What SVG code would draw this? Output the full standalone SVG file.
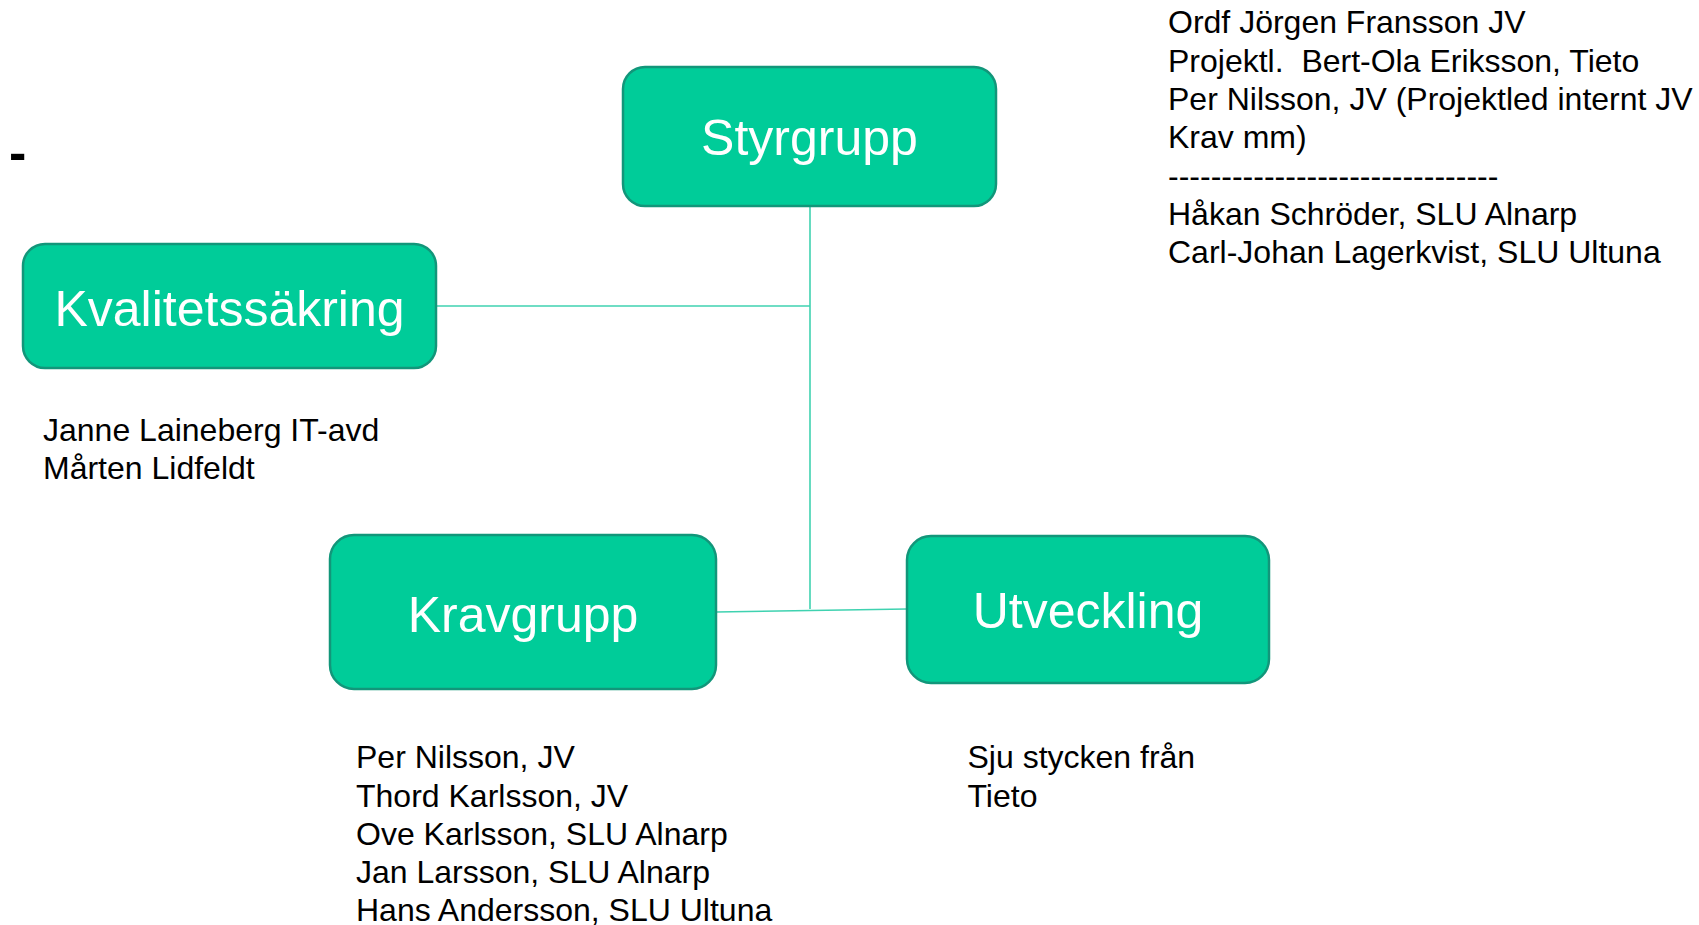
<svg xmlns="http://www.w3.org/2000/svg" width="1699" height="925" viewBox="0 0 1699 925">
<style>
.box{fill:#00CC99;stroke:#12967A;stroke-width:2.5}
.lbl{font-family:"Liberation Sans",Arial,sans-serif;font-size:50px;fill:#FFFFFF;text-anchor:middle}
.note{font-family:"Liberation Sans",Arial,sans-serif;font-size:32px;fill:#000000;white-space:pre}
.conn{stroke:#3FD2B0;stroke-width:1.6;fill:none}
</style>
<rect width="1699" height="925" fill="#FFFFFF"/>
<g id="connectors">
<line class="conn" x1="810" y1="206" x2="810" y2="609"/>
<line class="conn" x1="436" y1="306" x2="810" y2="306"/>
<line class="conn" x1="716" y1="612" x2="907" y2="609"/>
</g>
<g id="styrgrupp">
<rect class="box" x="623" y="67" width="373" height="139" rx="22"/>
<text class="lbl" x="809.5" y="154.5">Styrgrupp</text>
</g>
<g id="kvalitetssakring">
<rect class="box" x="23" y="244" width="413" height="124" rx="22"/>
<text class="lbl" x="229.5" y="325.5">Kvalitetssäkring</text>
</g>
<g id="kravgrupp">
<rect class="box" x="330" y="535" width="386" height="154" rx="24"/>
<text class="lbl" x="523" y="631.5">Kravgrupp</text>
</g>
<g id="utveckling">
<rect class="box" x="907" y="536" width="362" height="147" rx="24"/>
<text class="lbl" x="1088" y="627.5">Utveckling</text>
</g>
<text x="9" y="170" font-family="'Liberation Sans',Arial,sans-serif" font-size="52" font-weight="bold" fill="#000000">-</text>
<g id="styrgrupp-notes">
<text class="note" x="1168" y="33">Ordf Jörgen Fransson JV</text>
<text class="note" x="1168" y="71.5" xml:space="preserve">Projektl.  Bert-Ola Eriksson, Tieto</text>
<text class="note" x="1168" y="110">Per Nilsson, JV (Projektled internt JV</text>
<text class="note" x="1168" y="148">Krav mm)</text>
<text class="note" x="1168" y="186.5">-------------------------------</text>
<text class="note" x="1168" y="225">Håkan Schröder, SLU Alnarp</text>
<text class="note" x="1168" y="263">Carl-Johan Lagerkvist, SLU Ultuna</text>
</g>
<g id="kvalitet-notes">
<text class="note" x="43" y="441">Janne Laineberg IT-avd</text>
<text class="note" x="43" y="479">Mårten Lidfeldt</text>
</g>
<g id="krav-notes">
<text class="note" x="356" y="768">Per Nilsson, JV</text>
<text class="note" x="356" y="806.5">Thord Karlsson, JV</text>
<text class="note" x="356" y="845">Ove Karlsson, SLU Alnarp</text>
<text class="note" x="356" y="883">Jan Larsson, SLU Alnarp</text>
<text class="note" x="356" y="921">Hans Andersson, SLU Ultuna</text>
</g>
<g id="utveckling-notes">
<text class="note" x="967.5" y="768">Sju stycken från</text>
<text class="note" x="967.5" y="806.5">Tieto</text>
</g>
</svg>
